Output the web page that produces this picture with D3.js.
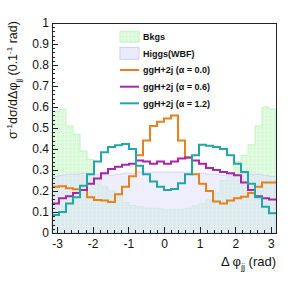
<!DOCTYPE html>
<meta charset="utf-8">
<style>
body { margin: 0; background: #fff; }
svg { font-family: "Liberation Sans", Arial, sans-serif; }
.axis path { display: none; }
.axis line { stroke: #222; stroke-width: 1; shape-rendering: crispEdges; }
.axis text { font-size: 12px; fill: #111; }
.leg { font-size: 9px; font-weight: bold; fill: #111; }
</style>
<body>
<div id="chart"></div>
<script src="https://cdnjs.cloudflare.com/ajax/libs/d3/7.8.5/d3.min.js"></script>
<script>

// 32 bins from -pi to pi
var nBins = 32;
var bkgs   = [0.58, 0.59, 0.51, 0.47, 0.39, 0.35, 0.26, 0.22, 0.20, 0.18, 0.145, 0.13, 0.125, 0.118, 0.118, 0.115,
              0.11, 0.11, 0.11, 0.118, 0.13, 0.14, 0.16, 0.19, 0.25, 0.27, 0.34, 0.37, 0.42, 0.51, 0.60, 0.59];
var higgs  = [0.27, 0.275, 0.28, 0.28, 0.285, 0.28, 0.28, 0.28, 0.275, 0.28, 0.285, 0.285, 0.29, 0.29, 0.29, 0.29,
              0.29, 0.29, 0.29, 0.29, 0.285, 0.285, 0.28, 0.28, 0.275, 0.28, 0.28, 0.285, 0.28, 0.28, 0.275, 0.27];
var alpha00 = [0.22, 0.223, 0.213, 0.208, 0.205, 0.17, 0.157, 0.155, 0.148, 0.185, 0.22, 0.27, 0.37, 0.44, 0.51, 0.53,
               0.545, 0.56, 0.44, 0.36, 0.28, 0.235, 0.20, 0.15, 0.14, 0.155, 0.165, 0.173, 0.19, 0.22, 0.24, 0.24];
var alpha06 = [0.14, 0.165, 0.175, 0.19, 0.205, 0.235, 0.26, 0.285, 0.305, 0.315, 0.325, 0.33, 0.345, 0.34, 0.33, 0.34,
               0.33, 0.34, 0.355, 0.36, 0.345, 0.33, 0.31, 0.30, 0.29, 0.285, 0.275, 0.24, 0.205, 0.175, 0.165, 0.16];
var alpha12 = [0.086, 0.10, 0.14, 0.17, 0.225, 0.28, 0.34, 0.385, 0.41, 0.418, 0.424, 0.40, 0.32, 0.28, 0.245, 0.22,
               0.205, 0.21, 0.237, 0.28, 0.37, 0.42, 0.415, 0.41, 0.40, 0.37, 0.33, 0.29, 0.235, 0.17, 0.125, 0.094];

var xTicks = [-3, -2, -1, 0, 1, 2, 3];
var yTicks = [0, 0.1, 0.2, 0.3, 0.4, 0.5, 0.6, 0.7, 0.8, 0.9, 1];
var legendNames = ["Bkgs", "Higgs(WBF)", "ggH+2j (\u03b1 = 0.0)", "ggH+2j (\u03b1 = 0.6)", "ggH+2j (\u03b1 = 1.2)"];

var largeur = 291, hauteur = 291;
var margin = {top: 23, right: 15, bottom: 58, left: 52};

var svg = d3.select("#chart").append("svg")
    .attr("width", largeur)
    .attr("height", hauteur);

var x = d3.scaleLinear()
    .domain([-Math.PI, Math.PI])
    .range([margin.left, largeur - margin.right]);
var y = d3.scaleLinear()
    .domain([0, 1])
    .range([hauteur - margin.bottom, margin.top]);

// hatch-like pattern for the background
var defs = svg.append("defs");
var pat = defs.append("pattern")
    .attr("id", "bkgPat")
    .attr("patternUnits", "userSpaceOnUse")
    .attr("width", 4).attr("height", 4);
pat.append("rect").attr("width", 4).attr("height", 4).attr("fill", "#d6f9d6");
pat.append("rect").attr("x", 0).attr("y", 0).attr("width", 1).attr("height", 4).attr("fill", "#e9fce9");
pat.append("rect").attr("x", 0).attr("y", 2).attr("width", 4).attr("height", 1).attr("fill", "#e5fbe5");

// bins -> step points
function steps(vals) {
    var w = 2 * Math.PI / nBins;
    var pts = vals.map(function(v, i) { return {x: -Math.PI + i * w, v: v}; });
    pts.push({x: Math.PI, v: vals[vals.length - 1]});
    return pts;
}

var area = d3.area()
    .curve(d3.curveStepAfter)
    .x(function(d) { return x(d.x); })
    .y0(y(0))
    .y1(function(d) { return y(d.v); });
var line = d3.line()
    .curve(d3.curveStepAfter)
    .x(function(d) { return x(d.x); })
    .y(function(d) { return y(d.v); });

svg.append("path")
    .datum(steps(bkgs))
    .attr("fill", "url(#bkgPat)")
    .attr("stroke", "#c2f4c2")
    .attr("stroke-width", 1)
    .attr("d", area);

svg.append("path")
    .datum(steps(higgs))
    .attr("fill", "#e0e0fc")
    .attr("fill-opacity", 0.55)
    .attr("stroke", "#d4d4f8")
    .attr("stroke-width", 1)
    .attr("d", area);

var series = [
    {vals: alpha00, color: "#e5821f"},
    {vals: alpha06, color: "#a826a8"},
    {vals: alpha12, color: "#23a6a6"}
];
series.forEach(function(s) {
    svg.append("path")
        .datum(steps(s.vals))
        .attr("fill", "none")
        .attr("stroke", s.color)
        .attr("stroke-width", 2)
        .attr("d", line);
});

// axes, ticks inward
svg.append("g")
    .attr("class", "axis")
    .attr("transform", "translate(" + margin.left + ",0)")
    .call(d3.axisLeft(y).tickValues(d3.range(0, 1.001, 0.02)).tickSize(-3).tickFormat(""));
svg.append("g")
    .attr("class", "axis")
    .attr("transform", "translate(" + margin.left + ",0)")
    .call(d3.axisLeft(y).tickValues(yTicks).tickSize(-6).tickPadding(3)
        .tickFormat(function(d) { return String(d); }));

var xAxisY = hauteur - margin.bottom;
svg.append("g")
    .attr("class", "axis")
    .attr("transform", "translate(0," + xAxisY + ")")
    .call(d3.axisBottom(x).tickValues(d3.range(-3.0, 3.01, 0.2)).tickSize(-3).tickFormat(""));
svg.append("g")
    .attr("class", "axis")
    .attr("transform", "translate(0," + xAxisY + ")")
    .call(d3.axisBottom(x).tickValues(xTicks).tickSize(-6).tickPadding(6)
        .tickFormat(function(d) { return String(d); }));

// frame
svg.append("rect")
    .attr("x", margin.left)
    .attr("y", margin.top)
    .attr("width", largeur - margin.left - margin.right)
    .attr("height", hauteur - margin.top - margin.bottom)
    .attr("fill", "none")
    .attr("stroke", "#222")
    .attr("shape-rendering", "crispEdges");

// axis titles
var xt = svg.append("text")
    .attr("x", largeur - margin.right)
    .attr("y", 266)
    .attr("text-anchor", "end")
    .style("font-size", "13px")
    .attr("fill", "#111");
xt.append("tspan").text("\u0394  \u03c6");
xt.append("tspan").attr("dy", 4).style("font-size", "9px").text("jj");
xt.append("tspan").attr("dy", -4).text(" (rad)");

var yt = svg.append("text")
    .attr("transform", "translate(17,80) rotate(-90)")
    .attr("text-anchor", "middle")
    .style("font-size", "12.5px")
    .attr("fill", "#111");
yt.append("tspan").text("\u03c3");
yt.append("tspan").attr("dy", -5).style("font-size", "8px").text("-1");
yt.append("tspan").attr("dy", 5).text("d\u03c3/d\u0394\u03c6");
yt.append("tspan").attr("dy", 4).style("font-size", "8px").text("jj");
yt.append("tspan").attr("dy", -4).text(" (0.1");
yt.append("tspan").attr("dy", -5).style("font-size", "8px").text("-1");
yt.append("tspan").attr("dy", 5).text(" rad)");

// legend
var legY = [36.7, 53.3, 70, 86.7, 103.3];
var lg = svg.append("g");
lg.append("rect").attr("x", 120).attr("y", legY[0] - 5.5).attr("width", 19).attr("height", 11)
    .attr("fill", "url(#bkgPat)").attr("stroke", "#c2f4c2");
lg.append("rect").attr("x", 120).attr("y", legY[1] - 6).attr("width", 19).attr("height", 12)
    .attr("fill", "#ebebfd").attr("stroke", "#cdcdf6");
series.forEach(function(s, i) {
    lg.append("line")
        .attr("x1", 120).attr("x2", 139)
        .attr("y1", legY[i + 2]).attr("y2", legY[i + 2])
        .attr("stroke", s.color).attr("stroke-width", 2);
});
legendNames.forEach(function(n, i) {
    lg.append("text")
        .attr("class", "leg")
        .attr("x", 143)
        .attr("y", legY[i] + 3.3)
        .text(n);
});

</script>
</body>
